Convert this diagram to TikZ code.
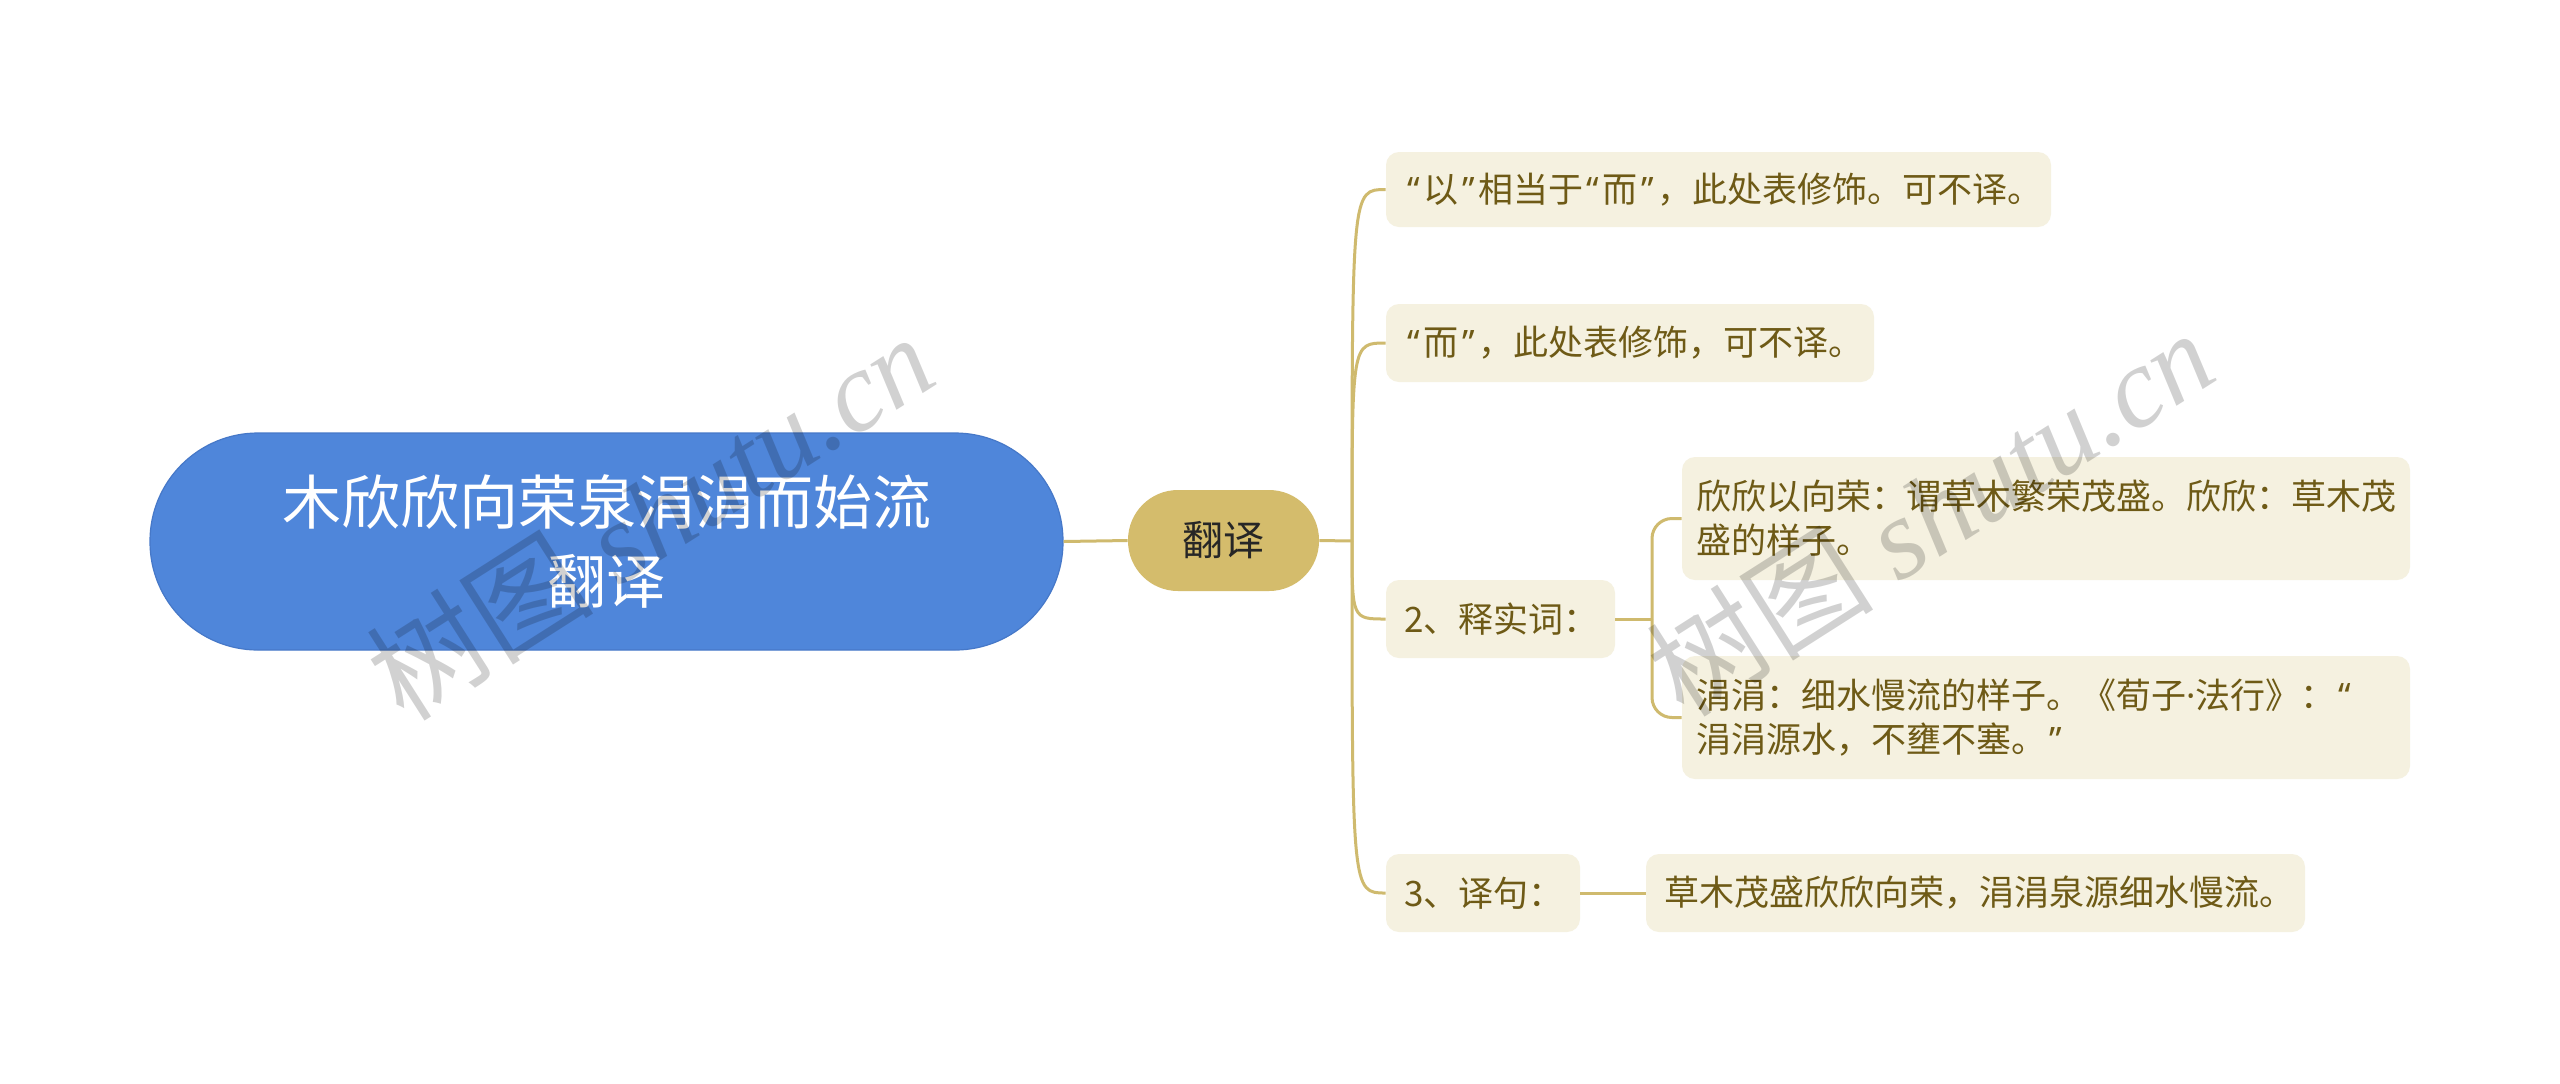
\documentclass[tikz,border=0pt]{standalone}
\usepackage{fontspec}
\setmainfont{Noto Sans CJK SC}
\newfontfamily\wmlatin{Liberation Serif}
\newfontfamily\qfont{Noto Sans}
\newcommand\qopen{{\qfont\kern0.1em “\kern0.1em}}
\newcommand\qclose{{\qfont\kern0.1em ”\kern0.1em}}
\newcommand\qdot{{\qfont ·}}
\definecolor{rootC}{RGB}{79,134,218}
\definecolor{rootB}{RGB}{70,120,200}
\definecolor{fyC}{RGB}{212,188,108}
\definecolor{lineC}{RGB}{207,186,110}
\definecolor{boxC}{RGB}{245,241,224}
\definecolor{txtC}{RGB}{110,90,22}
\begin{document}
\begin{tikzpicture}[x=0.5pt,y=-0.5pt,
  conn/.style={draw=lineC, line width=1.5pt},
  leaf/.style={fill=boxC, text=txtC, rounded corners=6.5pt, inner xsep=9pt, inner ysep=0pt, align=left, font=\fontsize{17.5pt}{22pt}\selectfont},
  rootnode/.style={fill=rootC, draw=rootB, line width=0.6pt, text=white, rounded corners=54pt, minimum width=456.5pt, minimum height=108.5pt, align=center, font=\fontsize{29.5pt}{39.5pt}\selectfont},
  fynode/.style={fill=fyC, text=black!85, rounded corners=25pt, minimum width=95.5pt, minimum height=50.5pt, font=\fontsize{20.5pt}{24pt}\selectfont},
  wm/.style={text=black, opacity=0.18, rotate=32.5, font=\fontsize{57pt}{64pt}\selectfont}
]
\useasboundingbox (0,0) rectangle (2560,1083);
\fill[white] (0,0) rectangle (2560,1083);

\coordinate (J) at (1352,541);
\coordinate (K) at (1652,619);

\node[rootnode] (root) at (606.5,541.5) {木欣欣向荣泉涓涓而始流\\翻译};
\node[fynode] (fy) at (1223.5,540.5) {翻译};

\node[leaf, text width=314.5pt, minimum height=37.5pt] (c1) at (1718.5,189.5) {\qopen 以\qclose 相当于\qopen 而\qclose ，此处表修饰。可不译。};
\node[leaf, text width=226pt, minimum height=39pt] (c2) at (1630,343) {\qopen 而\qclose ，此处表修饰，可不译。};
\node[leaf, text width=96.5pt, minimum height=39pt] (c3) at (1500.5,619) {2、释实词：};
\node[leaf, text width=79pt, minimum height=39pt] (c4) at (1483,893) {3、译句：};

\node[leaf, inner xsep=7pt, text width=350pt, minimum height=61.5pt] (g1) at (2046,518.5) {欣欣以向荣：谓草木繁荣茂盛。欣欣：草木茂\\盛的样子。};
\node[leaf, inner xsep=7pt, text width=350pt, minimum height=61.5pt] (g2) at (2046,717.5) {涓涓：细水慢流的样子。《荀子\qdot 法行》：\qopen\\涓涓源水，不壅不塞。\qclose};
\node[leaf, text width=311.5pt, minimum height=39pt] (g3) at (1975.5,893) {草木茂盛欣欣向荣，涓涓泉源细水慢流。};

\draw[conn] (root.east) -- (fy.west);
\draw[conn] (fy.east) -- (J);
\draw[conn] (J) .. controls (J |- c1.west) .. (c1.west);
\draw[conn] (J) .. controls (J |- c2.west) .. (c2.west);
\draw[conn] (J) .. controls (J |- c3.west) .. (c3.west);
\draw[conn] (J) .. controls (J |- c4.west) .. (c4.west);

\draw[conn] (c3.east) -- (K);
\draw[conn, rounded corners=10pt] (K) |- (g1.west);
\draw[conn, rounded corners=10pt] (K) |- (g2.west);
\draw[conn] (c4.east) -- (g3.west);

\node[wm] (wm1) at (650,516) {树图 {\wmlatin\itshape shutu.cn}};
\node[wm] (wm2) at (1930,512) {树图 {\wmlatin\itshape shutu.cn}};
\end{tikzpicture}
\end{document}
